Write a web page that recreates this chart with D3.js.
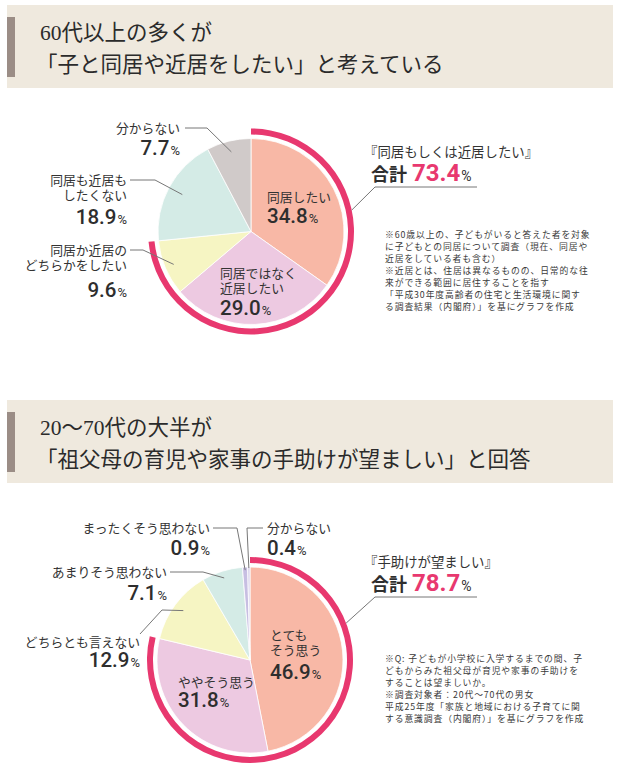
<!DOCTYPE html>
<html lang="ja">
<head>
<meta charset="utf-8">
<script src="https://cdn.jsdelivr.net/npm/d3@7"></script>
<style>
  html, body { margin: 0; padding: 0; background: #fff; }
  svg { display: block; }
  .title { font-family: "Liberation Serif", "Noto Sans CJK JP", serif; font-size: 21.5px; fill: #2b2b2b; }
  .label { font-family: "Noto Sans CJK JP", sans-serif; font-size: 12.8px; fill: #333; }
  .num { font-family: Roboto, "Liberation Sans", sans-serif; font-weight: 500; font-size: 20.5px; fill: #2e2e2e; }
  .pct { font-family: Roboto, "Liberation Sans", sans-serif; font-weight: 400; font-size: 13px; fill: #2e2e2e; }
  .leader { fill: none; stroke: #777; stroke-width: 1; }
  .head { font-family: "Noto Sans CJK JP", sans-serif; font-size: 13.4px; fill: #333; }
  .sum { font-family: "Noto Sans CJK JP", sans-serif; font-size: 18px; font-weight: 700; fill: #2e2e2e; }
  .total { font-family: Roboto, "Liberation Sans", sans-serif; font-weight: 700; font-size: 24px; fill: #e8386f; }
  .note { font-family: "Noto Sans CJK JP", sans-serif; font-size: 8.8px; letter-spacing: 0.9px; fill: #3a3a3a; }
</style>
</head>
<body>
<svg id="chart" width="618" height="768"></svg>
<script>
// ---- chart 1 data ----
const title1 = ["60代以上の多くが", "「子と同居や近居をしたい」と考えている"];
const categories1 = ["同居したい", "同居ではなく近居したい", "同居か近居のどちらかをしたい", "同居も近居もしたくない", "分からない"];
const labelLines1 = [["同居したい"], ["同居ではなく", "近居したい"], ["同居か近居の", "どちらかをしたい"], ["同居も近居も", "したくない"], ["分からない"]];
const values1 = [34.8, 29.0, 9.6, 18.9, 7.7];
const totalCount1 = 3; // first slices making up the total
const totalHead1 = "『同居もしくは近居したい』";
const notes1 = [
  "※60歳以上の、子どもがいると答えた者を対象",
  "に子どもとの同居について調査（現在、同居や",
  "近居をしている者も含む）",
  "※近居とは、住居は異なるものの、日常的な往",
  "来ができる範囲に居住することを指す",
  "「平成30年度高齢者の住宅と生活環境に関す",
  "る調査結果（内閣府）」を基にグラフを作成"
];

// ---- chart 2 data ----
const title2 = ["20〜70代の大半が", "「祖父母の育児や家事の手助けが望ましい」と回答"];
const categories2 = ["とてもそう思う", "ややそう思う", "どちらとも言えない", "あまりそう思わない", "まったくそう思わない", "分からない"];
const labelLines2 = [["とても", "そう思う"], ["ややそう思う"], ["どちらとも言えない"], ["あまりそう思わない"], ["まったくそう思わない"], ["分からない"]];
const values2 = [46.9, 31.8, 12.9, 7.1, 0.9, 0.4];
const totalCount2 = 2;
const totalHead2 = "『手助けが望ましい』";
const notes2 = [
  "※Q: 子どもが小学校に入学するまでの間、子",
  "どもからみた祖父母が育児や家事の手助けを",
  "することは望ましいか。",
  "※調査対象者：20代〜70代の男女",
  "平成25年度「家族と地域における子育てに関",
  "する意識調査（内閣府）」を基にグラフを作成"
];

const colors1 = ["#f8b8a6", "#edc9e1", "#f6f5c3", "#d4ebe6", "#d0cac9"];
const colors2 = ["#f8b8a6", "#edc9e1", "#f6f5c3", "#d4ebe6", "#c7bee2", "#d6d0ea"];

const fmt = d3.format(".1f");
const svg = d3.select("#chart");

function drawTitle(top, lines) {
  const g = svg.append("g").attr("transform", `translate(0,${top})`);
  g.append("rect").attr("x", 7).attr("y", 0).attr("width", 606).attr("height", 83).attr("fill", "#efe9de");
  g.append("rect").attr("x", 7).attr("y", 12).attr("width", 8).attr("height", 60).attr("fill", "#9b8d86");
  g.selectAll("text.title").data(lines).enter().append("text")
    .attr("class", "title")
    .attr("x", (d, i) => i === 0 ? 40 : 36)
    .attr("y", (d, i) => 35 + i * 32)
    .text(d => d);
}

function drawPie(cfg) {
  const g = svg.append("g").attr("transform", `translate(${cfg.cx},${cfg.cy})`);
  const color = d3.scaleOrdinal().domain(cfg.categories).range(cfg.colors);
  const arcs = d3.pie().sort(null).value(d => d.value)(
    cfg.values.map((v, i) => ({ key: cfg.categories[i], value: v, lines: cfg.lines[i] }))
  );
  const arc = d3.arc().innerRadius(0).outerRadius(93);

  g.selectAll("path.slice").data(arcs).enter().append("path")
    .attr("class", "slice")
    .attr("d", arc)
    .attr("fill", d => color(d.data.key))
    .attr("stroke", "#fff")
    .attr("stroke-width", 0.8);

  // highlight ring over the slices forming the total
  const total = d3.sum(cfg.values.slice(0, cfg.totalCount));
  const ringEnd = arcs[cfg.totalCount - 1].endAngle;
  g.append("path")
    .attr("d", d3.arc().innerRadius(97).outerRadius(103).startAngle(0).endAngle(ringEnd)())
    .attr("fill", "#e8386f");

  arcs.forEach((d, i) => {
    const L = cfg.layout[i];
    const t = g.append("text").attr("class", "label").attr("text-anchor", L.anchor);
    d.data.lines.forEach((line, j) => {
      t.append("tspan").attr("x", L.dx).attr("y", L.dy + j * 15).text(line);
    });
    const lastY = L.dy + (d.data.lines.length - 1) * 15;
    const p = g.append("text").attr("text-anchor", L.anchor)
      .attr("x", L.dx).attr("y", lastY + L.gap);
    p.append("tspan").attr("class", "num").text(fmt(d.data.value));
    p.append("tspan").attr("class", "pct").attr("dx", 1).text("%");

    if (L.leader) {
      const mid = (d.startAngle + d.endAngle) / 2;
      const end = [Math.sin(mid) * L.r, -Math.cos(mid) * L.r];
      const pts = L.leader.concat([end]);
      g.append("path").attr("class", "leader").attr("d", d3.line()(pts));
    }
  });

  // total callout
  const c = svg.append("g");
  c.append("text").attr("class", "head").attr("x", cfg.callX - 6).attr("y", cfg.callY).text(cfg.head);
  const s = c.append("text").attr("x", cfg.callX + 1).attr("y", cfg.callY + 24);
  s.append("tspan").attr("class", "sum").text("合計");
  s.append("tspan").attr("class", "total").attr("dx", 5).text(fmt(total));
  s.append("tspan").attr("class", "pct").attr("dx", 1).attr("style", "font-size:14px").text("%");
  const a = cfg.callAngle, ra = 103;
  const tip = [cfg.cx + Math.sin(a) * ra, cfg.cy - Math.cos(a) * ra];
  c.append("path").attr("class", "leader")
    .attr("d", d3.line()([[cfg.callX + 107, cfg.callY + 30], [cfg.callX + 5, cfg.callY + 30], tip]));

  c.selectAll("text.note").data(cfg.notes).enter().append("text")
    .attr("class", "note")
    .attr("x", cfg.noteX)
    .attr("y", (d, i) => cfg.noteY + i * 12.1)
    .text(d => d);
}

drawTitle(5, title1);
drawPie({
  cx: 251, cy: 231.5,
  categories: categories1, values: values1, lines: labelLines1, colors: colors1,
  totalCount: totalCount1, head: totalHead1, notes: notes1,
  callX: 370, callY: 157, callAngle: 78 * Math.PI / 180,
  noteX: 385, noteY: 237.5,
  layout: [
    { anchor: "start", dx: 16, dy: -30, gap: 21.5 },
    { anchor: "start", dx: -31, dy: 46, gap: 22.5 },
    { anchor: "end", dx: -124, dy: 23, gap: 27.5, r: 84, leader: [[-121, 18.5], [-108, 18.5]] },
    { anchor: "end", dx: -124, dy: -47, gap: 24.5, r: 78, leader: [[-121, -51.5], [-96, -51.5]] },
    { anchor: "end", dx: -71, dy: -99, gap: 22.5, r: 82, leader: [[-66, -103.5], [-44, -103.5]] }
  ]
});

drawTitle(400, title2);
drawPie({
  cx: 250, cy: 660,
  categories: categories2, values: values2, lines: labelLines2, colors: colors2,
  totalCount: totalCount2, head: totalHead2, notes: notes2,
  callX: 370, callY: 567, callAngle: 69 * Math.PI / 180,
  noteX: 385, noteY: 661.5,
  layout: [
    { anchor: "start", dx: 20, dy: -20.5, gap: 24.5 },
    { anchor: "start", dx: -72, dy: 26.5, gap: 20.5 },
    { anchor: "end", dx: -110, dy: -13.5, gap: 20.5, r: 83, leader: [[-110, -26], [-88, -50]] },
    { anchor: "end", dx: -83, dy: -83.5, gap: 23.5, r: 86, leader: [[-80, -88], [-47, -88]] },
    { anchor: "end", dx: -40, dy: -127.5, gap: 22.5, r: 90, leader: [[-37, -132], [-13, -132]] },
    { anchor: "start", dx: 17, dy: -127.5, gap: 22.5, r: 92, leader: [[13, -132], [-3, -132]] }
  ]
});
</script>
</body>
</html>
